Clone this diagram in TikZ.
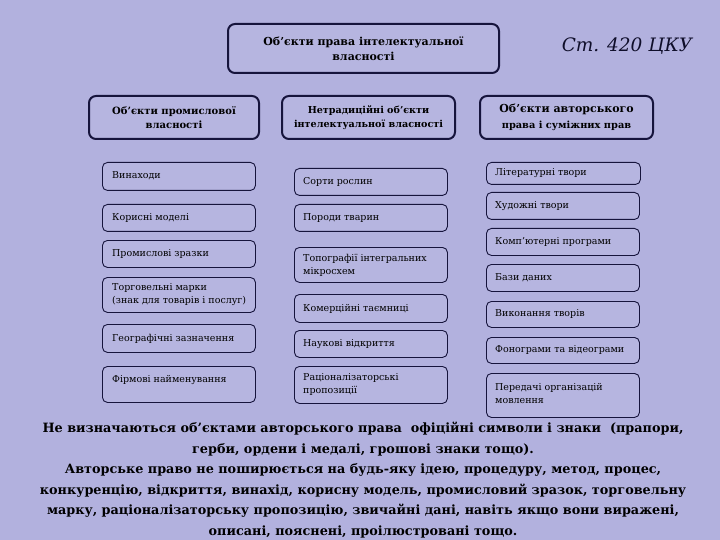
\documentclass[tikz,border=0pt]{standalone}
\usepackage{fontspec}
\setmainfont{DejaVu Serif}
\definecolor{bg}{RGB}{178,177,222}
\definecolor{boxfill}{RGB}{182,181,224}
\definecolor{navy}{RGB}{22,20,60}
\tikzset{
  sbox/.style={draw=navy, line width=0.9pt, rounded corners=5pt, fill=boxfill, inner sep=0pt, anchor=north west},
  hbox/.style={draw=navy, line width=2pt, rounded corners=7pt, fill=boxfill, inner sep=0pt, anchor=north west},
  stext/.style={font=\fontsize{9.5}{13}\selectfont, align=left, anchor=west, inner sep=0pt, text=black},
  htext/.style={font=\bfseries\fontsize{10}{13.5}\selectfont, align=center, inner sep=0pt, text=black},
}
\begin{document}
\begin{tikzpicture}[x=1pt,y=-1pt]
\fill[bg] (0,0) rectangle (720,540);
\useasboundingbox (0,0) rectangle (720,540);

% headers
\node[hbox, minimum width=271pt, minimum height=49pt] (top) at (227,23) {};
\node[htext, font=\bfseries\fontsize{11}{15}\selectfont] (topt) at (top.center) {Об’єкти права інтелектуальної\\власності};
\node[font=\itshape\fontsize{18.5}{26}\selectfont, text=navy!70!black, inner sep=0pt] (cku) at (627,46) {Ст. 420 ЦКУ};

\node[hbox, minimum width=170pt, minimum height=43pt] (h1) at (88,95) {};
\node[htext] (h1t) at (h1.center) {Об’єкти промислової\\власності};
\node[hbox, minimum width=173pt, minimum height=43pt] (h2) at (281,95) {};
\node[htext, font=\bfseries\fontsize{9.6}{13.5}\selectfont] (h2t) at (h2.center) {Нетрадиційні об’єкти\\інтелектуальної власності};
\node[hbox, minimum width=173pt, minimum height=43pt] (h3) at (479,95) {};
\node[htext, font=\bfseries\fontsize{11}{16}\selectfont] (h3t) at (h3.center) {Об’єкти авторського\\{\fontsize{9.8}{13}\selectfont права і суміжних прав}};

% left column
\node[sbox, minimum width=153pt, minimum height=28pt] (vin) at (102,162) {};
\node[stext] (vint) at ([xshift=10pt,yshift=1pt]vin.west) {Винаходи};
\node[sbox, minimum width=153pt, minimum height=27pt] (kor) at (102,204) {};
\node[stext] (kort) at ([xshift=10pt]kor.west) {Корисні моделі};
\node[sbox, minimum width=153pt, minimum height=27pt] (prom) at (102,240) {};
\node[stext] (promt) at ([xshift=10pt]prom.west) {Промислові зразки};
\node[sbox, minimum width=153pt, minimum height=35pt] (torg) at (102,277) {};
\node[stext] (torgt) at ([xshift=10pt]torg.west) {Торговельні марки\\(знак для товарів і послуг)};
\node[sbox, minimum width=153pt, minimum height=28pt] (geo) at (102,324) {};
\node[stext] (geot) at ([xshift=10pt]geo.west) {Географічні зазначення};
\node[sbox, minimum width=153pt, minimum height=36pt] (firm) at (102,366) {};
\node[stext] (firmt) at ([xshift=10pt,yshift=4pt]firm.west) {Фірмові найменування};

% middle column
\node[sbox, minimum width=153pt, minimum height=27pt] (sort) at (294,168) {};
\node[stext] (sortt) at ([xshift=9pt]sort.west) {Сорти рослин};
\node[sbox, minimum width=153pt, minimum height=27pt] (por) at (294,204) {};
\node[stext] (port) at ([xshift=9pt]por.west) {Породи тварин};
\node[sbox, minimum width=153pt, minimum height=35pt] (topo) at (294,247) {};
\node[stext] (topot) at ([xshift=9pt]topo.west) {Топографії інтегральних\\мікросхем};
\node[sbox, minimum width=153pt, minimum height=28pt] (kom) at (294,294) {};
\node[stext] (komt) at ([xshift=9pt]kom.west) {Комерційні таємниці};
\node[sbox, minimum width=153pt, minimum height=27pt] (nauk) at (294,330) {};
\node[stext] (naukt) at ([xshift=9pt]nauk.west) {Наукові відкриття};
\node[sbox, minimum width=153pt, minimum height=37pt] (rac) at (294,366) {};
\node[stext] (ract) at ([xshift=9pt]rac.west) {Раціоналізаторські\\пропозиції};

% right column
\node[sbox, minimum width=154pt, minimum height=22pt] (lit) at (486,162) {};
\node[stext] (litt) at ([xshift=9pt]lit.west) {Літературні твори};
\node[sbox, minimum width=153pt, minimum height=27pt] (hud) at (486,192) {};
\node[stext] (hudt) at ([xshift=9pt]hud.west) {Художні твори};
\node[sbox, minimum width=153pt, minimum height=27pt] (komp) at (486,228) {};
\node[stext] (kompt) at ([xshift=9pt]komp.west) {Комп’ютерні програми};
\node[sbox, minimum width=153pt, minimum height=27pt] (baz) at (486,264) {};
\node[stext] (bazt) at ([xshift=9pt]baz.west) {Бази даних};
\node[sbox, minimum width=153pt, minimum height=26pt] (vyk) at (486,301) {};
\node[stext] (vykt) at ([xshift=9pt]vyk.west) {Виконання творів};
\node[sbox, minimum width=153pt, minimum height=26pt] (fono) at (486,337) {};
\node[stext] (fonot) at ([xshift=9pt]fono.west) {Фонограми та відеограми};
\node[sbox, minimum width=153pt, minimum height=44pt] (pered) at (486,373) {};
\node[stext] (peredt) at ([xshift=9pt,yshift=2pt]pered.west) {Передачі організацій\\мовлення};

% bottom note
\node[font=\bfseries\fontsize{12.8}{20.6}\selectfont, align=center, inner sep=0pt, text=black] (note) at (363,480) {Не визначаються об’єктами авторського права\ \ офіційні символи і знаки\ \ (прапори,\\герби, ордени і медалі, грошові знаки тощо).\\Авторське право не поширюється на будь-яку ідею, процедуру, метод, процес,\\конкуренцію, відкриття, винахід, корисну модель, промисловий зразок, торговельну\\марку, раціоналізаторську пропозицію, звичайні дані, навіть якщо вони виражені,\\описані, пояснені, проілюстровані тощо.};
\end{tikzpicture}
\end{document}
